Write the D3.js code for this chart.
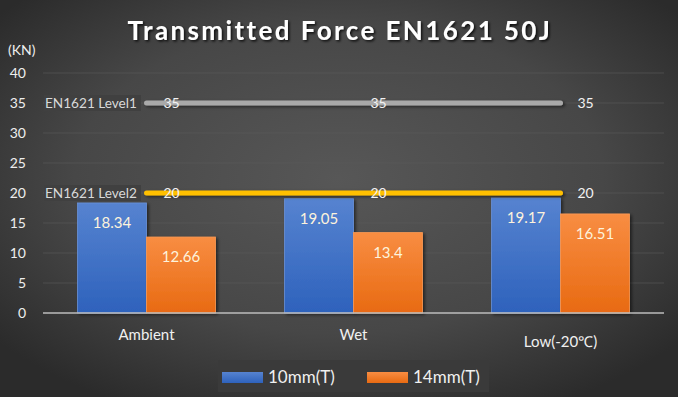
<!DOCTYPE html>
<html><head><meta charset="utf-8">
<script src="https://cdn.jsdelivr.net/npm/d3@7"></script>
<style>html,body{margin:0;padding:0;background:#333;}svg{display:block;}</style>
</head><body>
<script>
const categories = ["Ambient", "Wet", "Low(-20\u2103)"];
const seriesNames = ["10mm(T)", "14mm(T)"];
const values10mm = [18.34, 19.05, 19.17];
const values14mm = [12.66, 13.4, 16.51];
const level1 = [35, 35, 35];
const level2 = [20, 20, 20];
const levelNames = ["EN1621 Level1", "EN1621 Level2"];
const yTicks = [0, 5, 10, 15, 20, 25, 30, 35, 40];
const title = "Transmitted Force EN1621 50J";
const unit = "(KN)";

(function() {
const W = 678, H = 397;
const font = "Lato, 'Open Sans', sans-serif";
const svg = d3.select("body").append("svg").attr("width", W).attr("height", H);
const defs = svg.append("defs");

const bg = defs.append("radialGradient").attr("id", "bg").attr("cx", "50%").attr("cy", "45%").attr("r", "65%");
bg.append("stop").attr("offset", "0%").attr("stop-color", "#575757");
bg.append("stop").attr("offset", "60%").attr("stop-color", "#474747");
bg.append("stop").attr("offset", "100%").attr("stop-color", "#2b2b2b");
svg.append("rect").attr("width", W).attr("height", H).attr("fill", "url(#bg)");

const gB = defs.append("linearGradient").attr("id", "gBlue").attr("x1", 0).attr("y1", 0).attr("x2", 0).attr("y2", 1);
gB.append("stop").attr("offset", "0%").attr("stop-color", "#5683d0");
gB.append("stop").attr("offset", "100%").attr("stop-color", "#2e62bc");
const gO = defs.append("linearGradient").attr("id", "gOrange").attr("x1", 0).attr("y1", 0).attr("x2", 0).attr("y2", 1);
gO.append("stop").attr("offset", "0%").attr("stop-color", "#f88d42");
gO.append("stop").attr("offset", "100%").attr("stop-color", "#e86a12");

const sh = defs.append("filter").attr("id", "shadow").attr("filterUnits", "userSpaceOnUse")
  .attr("x", 0).attr("y", 0).attr("width", W).attr("height", H);
sh.append("feDropShadow").attr("dx", 2).attr("dy", 1.5).attr("stdDeviation", 1.5).attr("flood-color", "#000").attr("flood-opacity", 0.5);
const tsh = defs.append("filter").attr("id", "tshadow").attr("filterUnits", "userSpaceOnUse")
  .attr("x", 0).attr("y", 0).attr("width", W).attr("height", H);
tsh.append("feDropShadow").attr("dx", 1.5).attr("dy", 1.5).attr("stdDeviation", 1.2).attr("flood-color", "#000").attr("flood-opacity", 0.8);

const pLeft = 43, pRight = 664, pTop = 73, pBottom = 313;
const x = d3.scaleBand().domain(categories).range([pLeft, pRight]).paddingInner(0).paddingOuter(0);
const xs = d3.scaleBand().domain(seriesNames).range([0, x.bandwidth()]).paddingInner(0).paddingOuter(0.5);
const y = d3.scaleLinear().domain([0, 40]).range([pBottom, pTop]);

// title
svg.append("text").attr("x", 340).attr("y", 40).attr("text-anchor", "middle")
  .attr("font-family", font).attr("font-weight", "bold").attr("font-size", 26)
  .attr("fill", "#ffffff").attr("filter", "url(#tshadow)").attr("letter-spacing", 2.4).text(title);

svg.append("text").attr("x", 8).attr("y", 55).attr("font-family", font).attr("font-size", 14)
  .attr("fill", "#eeeeee").text(unit);

// gridlines
svg.append("g").selectAll("line").data(yTicks.filter(d => d > 0)).join("line")
  .attr("x1", pLeft).attr("x2", pRight).attr("y1", d => y(d)).attr("y2", d => y(d))
  .attr("stroke", "#5a5a5a").attr("stroke-width", 1).attr("opacity", 0.6);

// y axis
const yAxis = svg.append("g").attr("transform", `translate(26,0)`)
  .call(d3.axisLeft(y).tickValues(yTicks).tickSize(0).tickPadding(0));
yAxis.select(".domain").remove();
yAxis.selectAll("text").attr("font-family", font).attr("font-size", 14).attr("fill", "#eeeeee");

// bars
const groups = svg.append("g").selectAll("g").data(categories).join("g")
  .attr("transform", d => `translate(${x(d)},0)`);
const seriesVals = [values10mm, values14mm];
const fills = ["url(#gBlue)", "url(#gOrange)"];
const strokes = ["#6a92d8", "#fb9a55"];
groups.each(function(c, i) {
  const g = d3.select(this);
  seriesNames.forEach((s, j) => {
    const v = seriesVals[j][i];
    g.append("rect").attr("x", xs(s)).attr("width", xs.bandwidth())
      .attr("y", y(v)).attr("height", y(0) - y(v))
      .attr("fill", fills[j]).attr("stroke", strokes[j]).attr("stroke-width", 0.8)
      .attr("filter", "url(#shadow)");
  });
  seriesNames.forEach((s, j) => {
    const v = seriesVals[j][i];
    g.append("text").attr("x", xs(s) + xs.bandwidth() / 2).attr("y", y(v) + 25)
      .attr("text-anchor", "middle").attr("font-family", font).attr("font-size", 15)
      .attr("fill", "#fdf3dc").text(v);
  });
});

// baseline
svg.append("line").attr("x1", pLeft).attr("x2", pRight).attr("y1", y(0)).attr("y2", y(0))
  .attr("stroke", "#bdbdbd").attr("stroke-width", 1.5);

// category labels
svg.append("g").selectAll("text").data(categories).join("text")
  .attr("x", d => x(d) + x.bandwidth() / 2)
  .attr("y", (d, i) => i === 2 ? 347 : 340)
  .attr("text-anchor", "middle").attr("font-family", font).attr("font-size", 15)
  .attr("fill", "#f0f0f0").text(d => d);

// level lines
const levels = [level1, level2];
const levelColors = ["#a9a9a9", "#ffc000"];
const line = d3.line().x((d, i) => x(categories[i]) + x.bandwidth() / 2).y(d => y(d));
levels.forEach((lv, k) => {
  svg.append("path").datum(lv).attr("d", line).attr("fill", "none")
    .attr("stroke", levelColors[k]).attr("stroke-width", 5).attr("stroke-linecap", "round")
    .attr("filter", "url(#shadow)");
  svg.append("g").selectAll("text").data(lv).join("text")
    .attr("x", (d, i) => x(categories[i]) + x.bandwidth() / 2 + 17)
    .attr("y", d => y(d) + 5)
    .attr("font-family", font).attr("font-size", 14).attr("fill", "#f2f2f2").text(d => d);
  const ly = y(lv[0]);
  svg.append("rect").attr("x", 44).attr("y", ly - 8).attr("width", 97).attr("height", 16)
    .attr("fill", "#404040");
  svg.append("text").attr("x", 45).attr("y", ly + 5).attr("font-family", font).attr("font-size", 13.6)
    .attr("fill", "#d9d9d9").text(levelNames[k]);
});

// legend
const lg = svg.append("g");
lg.append("rect").attr("x", 218).attr("y", 360).attr("width", 271).attr("height", 32).attr("fill", "#3a3a3a");
const legX = [222, 367];
seriesNames.forEach((s, j) => {
  lg.append("rect").attr("x", legX[j]).attr("y", 372).attr("width", 41).attr("height", 11).attr("fill", fills[j]);
  lg.append("text").attr("x", legX[j] + 46).attr("y", 383).attr("font-family", font).attr("font-size", 17)
    .attr("fill", "#f0f0f0").text(s);
});
})();
</script>
</body></html>
